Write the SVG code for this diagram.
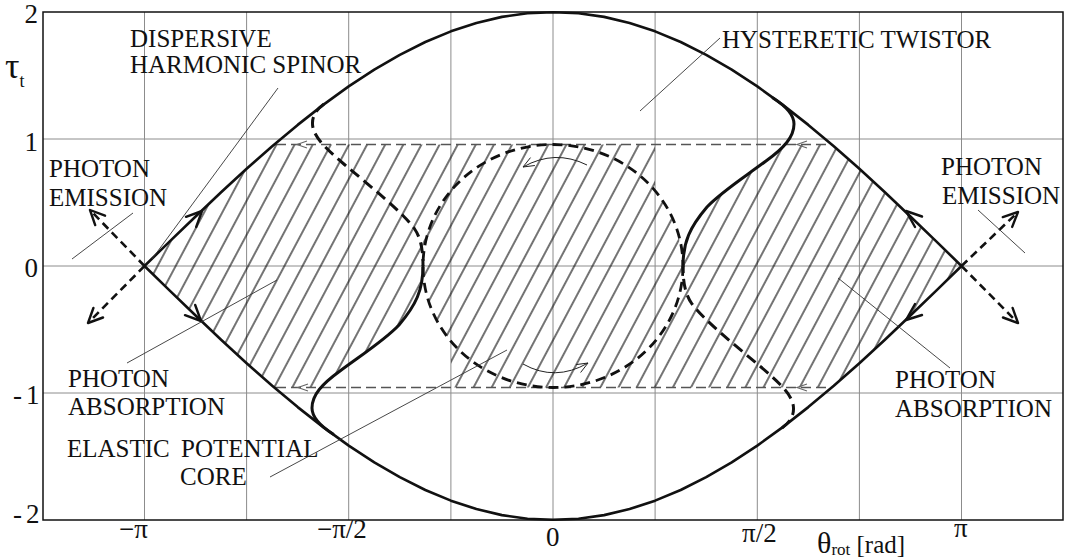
<svg xmlns="http://www.w3.org/2000/svg" width="1065" height="558" viewBox="0 0 1065 558">
<style>
.grid{stroke:#8c8c8c;stroke-width:1;fill:none}
.frame{stroke:#111;stroke-width:1.5;fill:none}
.outer{stroke:#111;stroke-width:2.6;fill:none;stroke-linejoin:round}
.band{stroke:#555;stroke-width:1.3;stroke-dasharray:10 5;fill:none}
.sol{stroke:#111;stroke-width:3;fill:none;stroke-linecap:round}
.dsh{stroke:#111;stroke-width:3;fill:none;stroke-dasharray:11 6}
.ell{stroke:#111;stroke-width:2.8;fill:none;stroke-dasharray:10 6}
.arr{stroke:#111;stroke-width:2.4;fill:none;stroke-linecap:round;stroke-linejoin:round}
.darr{stroke:#111;stroke-width:2.6;fill:none;stroke-dasharray:8 5}
.thin{stroke:#222;stroke-width:1;fill:none}
.small{stroke:#666;stroke-width:1.1;fill:none}
.lead{stroke:#333;stroke-width:0.9;fill:none}
.lbl{font-family:"Liberation Serif","Times New Roman",serif;font-size:25px;fill:#111}
.tick{font-family:"Liberation Serif","Times New Roman",serif;font-size:27px;fill:#111}
</style>
<defs>
<pattern id="hatch" patternUnits="userSpaceOnUse" width="16" height="20" patternTransform="rotate(28)">
<line x1="8" y1="-2" x2="8" y2="22" stroke="#000" stroke-width="1.1"/>
</pattern>
</defs>
<rect width="1065" height="558" fill="#fff"/>
<g id="grid">
<path class="grid" d="M144.5,12V520M246.6,12V520M348.7,12V520M450.9,12V520M553,12V520M655.1,12V520M757.3,12V520M859.4,12V520M961.5,12V520M43,139H1063M43,266H1063M43,393H1063"/>
<rect class="frame" x="43" y="12" width="1020" height="508"/>
</g>
<g id="hatched-region">
<path fill="url(#hatch)" fill-rule="evenodd" d="M144.5,266 L170,241.1 L195.6,216.45 L221.1,192.27 L246.6,168.8 L272.2,146.26 L274.3,144.5 L831.7,144.5 L833.8,146.26 L859.4,168.8 L884.9,192.27 L910.4,216.45 L936,241.1 L961.5,266 L936,290.9 L910.4,315.55 L884.9,339.73 L859.4,363.2 L833.8,385.74 L831.7,387.5 L274.3,387.5 L272.2,385.74 L246.6,363.2 L221.1,339.73 L195.6,315.55 L170,290.9 Z M655,144.5 L785,144.5 L776,153.4 L766,161 L734.3,184 L707,207 L688.6,235 L683,266 L678.6,234.6 L665.6,205.3 L655,190.7 Z M451,387.5 L321,387.5 L330,378.6 L340,371 L371.7,348 L399,325 L417.4,297 L423,266 L427.4,297.4 L440.4,326.7 L451,341.3 Z"/>
<path class="band" d="M276,144.5H831M276,387.5H831"/>
<path class="small" d="M307,141 L297,144.5 L307,148 M807,141 L797,144.5 L807,148 M308,384 L298,387.5 L308,391 M807,384 L797,387.5 L807,391"/>
</g>
<g id="outer-curve">
<path class="outer" d="M144.5,266 L170,241.1 L195.6,216.45 L221.1,192.27 L246.6,168.8 L272.2,146.26 L297.7,124.89 L323.2,104.86 L348.7,86.39 L374.3,69.66 L399.8,54.81 L425.3,41.99 L450.9,31.33 L476.4,22.94 L501.9,16.88 L527.5,13.22 L553,12.2 L578.5,13.22 L604.1,16.88 L629.6,22.94 L655.1,31.33 L680.7,41.99 L706.2,54.81 L731.7,69.66 L757.3,86.39 L782.8,104.86 L808.3,124.89 L833.8,146.26 L859.4,168.8 L884.9,192.27 L910.4,216.45 L936,241.1 L961.5,266 L936,290.9 L910.4,315.55 L884.9,339.73 L859.4,363.2 L833.8,385.74 L808.3,407.11 L782.8,427.14 L757.3,445.61 L731.7,462.34 L706.2,477.19 L680.7,490.01 L655.1,500.67 L629.6,509.06 L604.1,515.12 L578.5,518.78 L553,519.8 L527.5,518.78 L501.9,515.12 L476.4,509.06 L450.9,500.67 L425.3,490.01 L399.8,477.19 L374.3,462.34 L348.7,445.61 L323.2,427.14 L297.7,407.11 L272.2,385.74 L246.6,363.2 L221.1,339.73 L195.6,315.55 L170,290.9 Z"/>
<path class="arr" d="M186,216.8 L202,211 L196.2,227 M195.2,305 L201,321 L185,315.2 M915,227 L906,211 L922,216.5 M922,315 L906,320 L915,304"/>
</g>
<g id="hysteresis-left">
<path class="dsh" d="M324,104 Q310,114 313,128 C316,140 330,152 345,165 C370,186 400,210 414,228 C421,238 423,250 423,266"/>
<path class="sol" d="M423,266 C423,290 416,305 399,325 C385,340 360,356 340,371 C322,384 312,395 312,408 C312,418 322,427 333,434"/>
</g>
<g id="hysteresis-right">
<path class="sol" d="M683,266 C683,242 690,227 707,207 C721,192 746,176 766,161 C784,148 794,137 794,124 C794,114 784,105 773,98"/>
<path class="dsh" d="M782,428 Q796,418 793,404 C790,392 776,380 761,367 C736,346 706,322 692,304 C685,294 683,282 683,266"/>
</g>
<g id="elastic-core">
<ellipse class="ell" cx="553" cy="266" rx="130" ry="121.5"/>
<path class="thin" d="M587,165 Q555,149 523,167 M534.9,165.5 L523,167 L530.5,157.6"/>
<path class="thin" d="M523,364 Q555,382 588,363 M576.1,364.6 L588,363 L580.6,372.5"/>
</g>
<g id="photon-arrows">
<path class="darr" d="M144.5,266 L91,211 M144.5,266 L89,322 M961.5,266 L1017,213 M961.5,266 L1017,322"/>
<path class="arr" d="M95.2,225.1 L90,210 L105,215.7 M103,317.5 L88,323 L93.4,308 M1002.8,217.1 L1018,212 L1012.2,226.9 M1012.6,307.9 L1018,323 L1003,317.5"/>
</g>
<g id="connectors">
<path class="lead" d="M278,88 L152,259 M133,213 L72,259 M277,280 L127,363 M720,38 L640,111 M978,210 L1025,253 M838,278 L950,368 M270,477 L507,350"/>
</g>
<g id="labels">
<text class="lbl" x="130" y="47">DISPERSIVE</text>
<text class="lbl" x="130" y="73">HARMONIC SPINOR</text>
<text class="lbl" x="722" y="48">HYSTERETIC TWISTOR</text>
<text class="lbl" x="49" y="177">PHOTON</text>
<text class="lbl" x="49" y="206">EMISSION</text>
<text class="lbl" x="941" y="175">PHOTON</text>
<text class="lbl" x="942" y="204">EMISSION</text>
<text class="lbl" x="68" y="387">PHOTON</text>
<text class="lbl" x="68" y="415">ABSORPTION</text>
<text class="lbl" x="895" y="388">PHOTON</text>
<text class="lbl" x="895" y="417">ABSORPTION</text>
<text class="lbl" x="67" y="457">ELASTIC<tspan x="181">POTENTIAL</tspan></text>
<text class="lbl" x="180" y="485">CORE</text>
</g>
<g id="axes-labels">
<text class="tick" x="38" y="23" text-anchor="end">2</text>
<text class="tick" x="38" y="151" text-anchor="end">1</text>
<text class="tick" x="38" y="277" text-anchor="end">0</text>
<text class="tick" x="13" y="404" letter-spacing="4">-1</text>
<text class="tick" x="13" y="523" letter-spacing="4">-2</text>
<text x="5" y="78" font-family="Liberation Serif, serif" font-size="36" fill="#111">τ<tspan font-size="18" dy="9">t</tspan></text>
<text class="tick" x="119" y="538">−π</text>
<text class="tick" x="317" y="538">−π/2</text>
<text class="tick" x="546" y="546">0</text>
<text class="tick" x="742" y="542">π/2</text>
<text class="tick" x="954" y="537">π</text>
<text x="817" y="553" font-family="Liberation Serif, serif" font-size="30" fill="#111">θ<tspan font-size="17" dy="2">rot</tspan><tspan font-size="25" dy="-2"> [rad]</tspan></text>
</g>
</svg>
